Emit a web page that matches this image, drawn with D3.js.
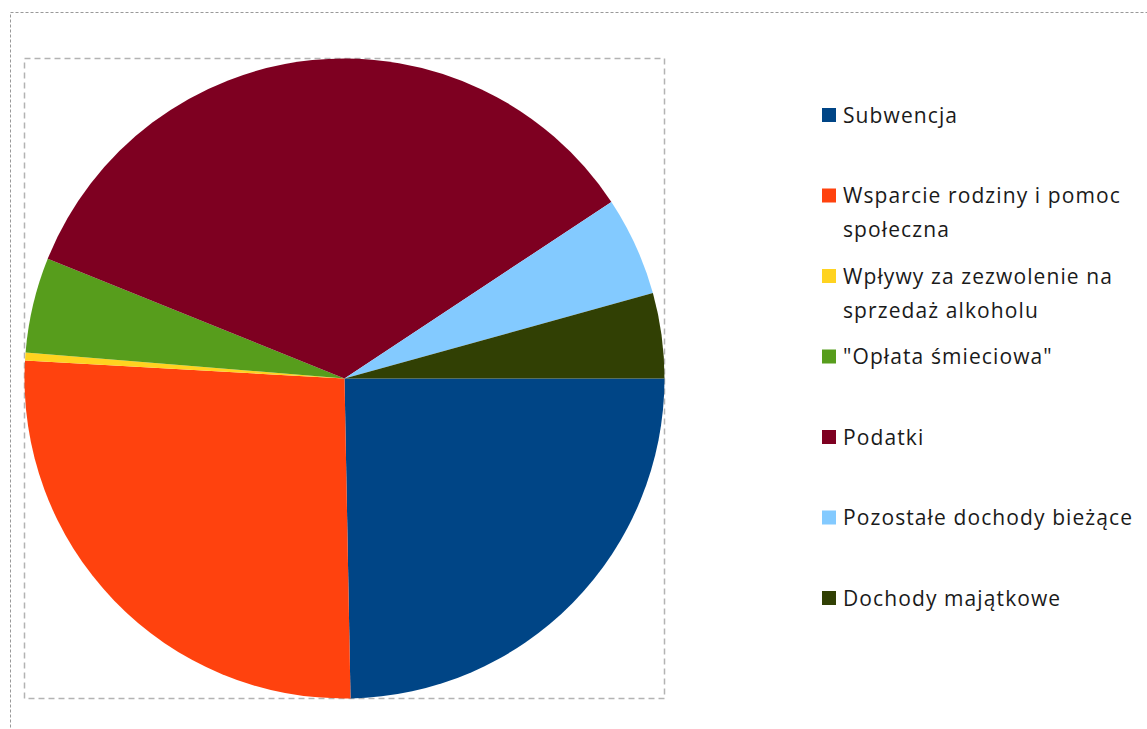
<!DOCTYPE html>
<html>
<head>
<meta charset="utf-8">
<script src="https://cdn.jsdelivr.net/npm/d3@7"></script>
<style>
  body { margin: 0; background: #fff; }
  text { font-family: "Open Sans", Lato, sans-serif; }
</style>
</head>
<body>
<svg></svg>
<script>
// categories and their share (percent)
let categories = ["Subwencja", "Wsparcie rodziny i pomoc społeczna", "Wpływy za zezwolenie na sprzedaż alkoholu",
                  "\"Opłata śmieciowa\"", "Podatki", "Pozostałe dochody bieżące", "Dochody majątkowe"];
let values = [24.7, 26.2, 0.4, 4.8, 34.6, 5.0, 4.3];
let colors = ["#004586", "#ff420e", "#ffd320", "#579d1c", "#7e0021", "#83caff", "#314004"];
// legend text split in lines as in the picture
let legendLines = [["Subwencja"], ["Wsparcie rodziny i pomoc", "społeczna"], ["Wpływy za zezwolenie na", "sprzedaż alkoholu"],
                   ["\"Opłata śmieciowa\""], ["Podatki"], ["Pozostałe dochody bieżące"], ["Dochody majątkowe"]];

let svgWidth = 1147;
let svgHeight = 729;

let svg = d3.select("svg")
    .attr("width", svgWidth)
    .attr("height", svgHeight);

// outer chart border (runs off the page right/bottom)
svg.append("rect")
    .attr("x", 10.5).attr("y", 12.5)
    .attr("width", 1150).attr("height", 730)
    .attr("fill", "none")
    .attr("stroke", "#999")
    .attr("stroke-dasharray", "3,2");

// plot area border
svg.append("rect")
    .attr("x", 24.5).attr("y", 58.5)
    .attr("width", 640).attr("height", 640)
    .attr("fill", "none")
    .attr("stroke", "#b3b3b3")
    .attr("stroke-width", 1.5)
    .attr("stroke-dasharray", "6,4");

let cx = 344.5, cy = 378.5, radius = 320;

let pie = d3.pie()
    .sort(null)
    .startAngle(Math.PI / 2)
    .endAngle(Math.PI / 2 + 2 * Math.PI);

let arc = d3.arc().innerRadius(0).outerRadius(radius);

let data = values.map((v, i) => ({ name: categories[i], value: v, color: colors[i] }));

svg.append("g")
    .attr("transform", "translate(" + cx + "," + cy + ")")
    .selectAll("path")
    .data(pie.value(d => d.value)(data))
    .enter()
    .append("path")
    .attr("d", arc)
    .attr("fill", d => d.data.color);

// legend
let legendY = d3.scaleLinear().domain([0, categories.length - 1]).range([115, 598]);

let legend = svg.append("g")
    .selectAll("g")
    .data(data)
    .enter()
    .append("g")
    .attr("transform", (d, i) => "translate(822," + legendY(i) + ")");

legend.append("rect")
    .attr("x", 0).attr("y", -7)
    .attr("width", 14).attr("height", 14)
    .attr("fill", d => d.color);

legend.each(function(d, i) {
    let t = d3.select(this).append("text")
        .attr("x", 21)
        .attr("y", 7.5)
        .attr("font-size", 21)
        .attr("letter-spacing", 1.1)
        .attr("fill", "#1a1a1a");
    legendLines[i].forEach((line, j) => {
        t.append("tspan").attr("x", 21).attr("dy", j == 0 ? 0 : 34).text(line);
    });
});
</script>
</body>
</html>
